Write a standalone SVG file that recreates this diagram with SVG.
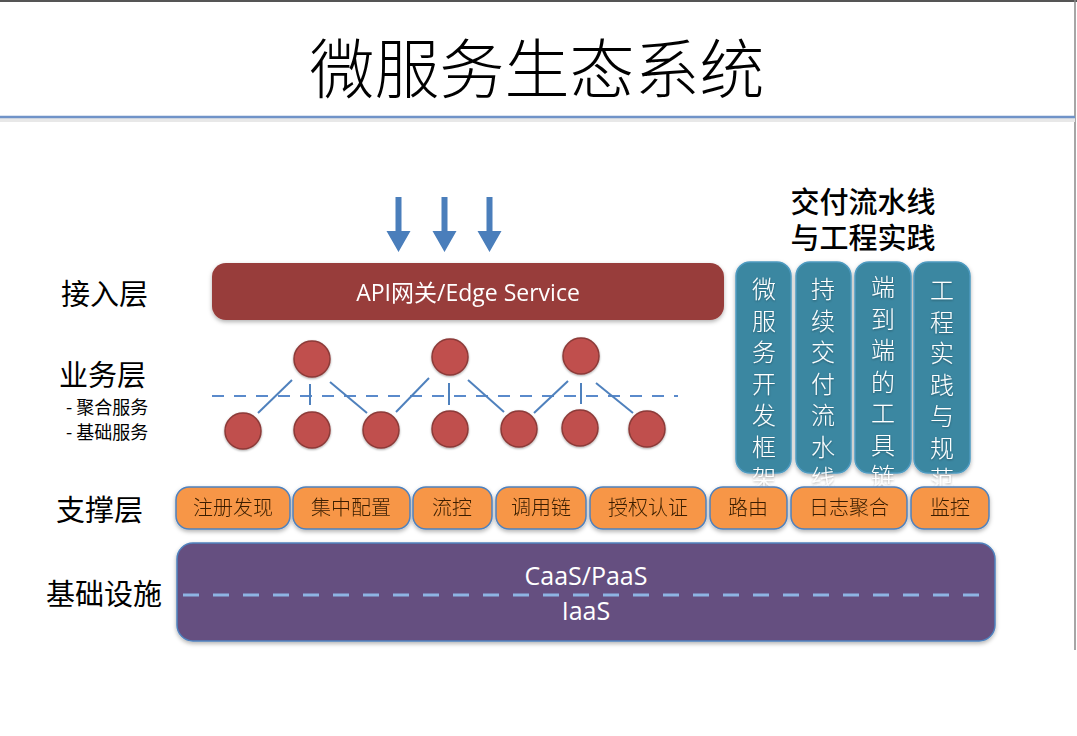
<svg xmlns="http://www.w3.org/2000/svg" width="1077" height="736" viewBox="0 0 1077 736">
<defs>
<style>
.cjk{font-family:"Noto Sans CJK SC","Liberation Sans",sans-serif}
.lbl{font-family:"Noto Sans CJK SC",sans-serif;font-size:29px;fill:#000}
.sub{font-family:"Noto Sans CJK SC",sans-serif;font-size:18px;fill:#000}
.wt{font-family:"Open Sans","Noto Sans CJK SC",sans-serif;fill:#fff;text-anchor:middle}
.vt{font-family:"Noto Sans CJK SC",sans-serif;font-size:24px;fill:#fff;text-anchor:middle;font-weight:300}
.or{fill:#f79646;stroke:#4f81bd;stroke-width:1.5}
.ot{font-family:"Noto Sans CJK SC",sans-serif;font-size:20px;fill:#3a1e00;text-anchor:middle;font-weight:300}
.teal{fill:#3a87a1;stroke:#4d9ac0;stroke-width:1.5}
.node{fill:#c0504d;stroke:#8c3a38;stroke-width:1.5}
.conn{stroke:#4f81bd;stroke-width:2;fill:none}
.arrow{fill:#4a7ebb}
</style>
<filter id="sh" x="-10%" y="-10%" width="120%" height="130%">
<feDropShadow dx="0" dy="2" stdDeviation="2" flood-color="#000" flood-opacity="0.3"/>
</filter>
<filter id="tsh" x="-30%" y="-30%" width="160%" height="160%">
<feDropShadow dx="0" dy="1" stdDeviation="1" flood-color="#000" flood-opacity="0.35"/>
</filter>
</defs>
<rect width="1077" height="736" fill="#fff"/>
<line x1="0" y1="1" x2="1077" y2="1" stroke="#555" stroke-width="2"/>
<line x1="1075" y1="0" x2="1075" y2="650" stroke="#888" stroke-width="1.5"/>

<g id="title">
<text x="537" y="93" text-anchor="middle" class="cjk" font-size="65" font-weight="300" fill="#000">微服务生态系统</text>
<rect x="0" y="118" width="1075" height="4" fill="#e8e8e8"/>
<line x1="0" y1="117" x2="1075" y2="117" stroke="#7093c8" stroke-width="2.5"/>
</g>

<g id="layer-labels">
<text x="61" y="305" class="lbl">接入层</text>
<text x="59" y="386" class="lbl">业务层</text>
<text x="66" y="414" class="sub">- 聚合服务</text>
<text x="66" y="439" class="sub">- 基础服务</text>
<text x="56" y="521" class="lbl">支撑层</text>
<text x="46" y="605" class="lbl">基础设施</text>
</g>

<g id="arrows">
<path class="arrow" d="M395.5 197h6v34h9l-12 21l-12-21h9z"/>
<path class="arrow" d="M441.5 197h6v34h9l-12 21l-12-21h9z"/>
<path class="arrow" d="M486.5 197h6v34h9l-12 21l-12-21h9z"/>
</g>

<g id="gateway" filter="url(#sh)">
<rect x="212" y="263" width="512" height="57" rx="14" fill="#983d3b"/>
<text x="468" y="301" class="wt" font-size="23">API网关/Edge Service</text>
</g>

<g id="connectors">
<line x1="212" y1="396" x2="678" y2="396" stroke="#5a8acb" stroke-width="2" stroke-dasharray="12,10"/>
<line class="conn" x1="292" y1="380" x2="258" y2="413"/>
<line class="conn" x1="310" y1="384" x2="310" y2="405"/>
<line class="conn" x1="330" y1="382" x2="367" y2="413"/>
<line class="conn" x1="429" y1="378" x2="396" y2="412"/>
<line class="conn" x1="449" y1="383" x2="449" y2="405"/>
<line class="conn" x1="468" y1="380" x2="504" y2="412"/>
<line class="conn" x1="568" y1="381" x2="534" y2="413"/>
<line class="conn" x1="581" y1="383" x2="581" y2="404"/>
<line class="conn" x1="596" y1="383" x2="633" y2="413"/>
</g>

<g id="services" filter="url(#tsh)">
<circle class="node" cx="312" cy="359" r="18"/>
<circle class="node" cx="450" cy="357" r="18"/>
<circle class="node" cx="581" cy="356" r="18"/>
<circle class="node" cx="243" cy="431" r="18"/>
<circle class="node" cx="312" cy="430" r="18"/>
<circle class="node" cx="381" cy="430" r="18"/>
<circle class="node" cx="450" cy="429" r="18"/>
<circle class="node" cx="519" cy="429" r="18"/>
<circle class="node" cx="580" cy="428" r="18"/>
<circle class="node" cx="647" cy="429" r="18"/>
</g>

<g id="pipeline">
<text x="863" y="213" text-anchor="middle" class="cjk" font-size="29" font-weight="500" fill="#000">交付流水线</text>
<text x="863" y="249" text-anchor="middle" class="cjk" font-size="29" font-weight="500" fill="#000">与工程实践</text>
<g filter="url(#sh)">
<rect class="teal" x="736" y="262" width="55" height="211" rx="14"/>
<rect class="teal" x="796" y="262" width="55" height="211" rx="14"/>
<rect class="teal" x="855" y="262" width="56" height="211" rx="14"/>
<rect class="teal" x="914" y="262" width="56" height="211" rx="14"/>
</g>
<g filter="url(#tsh)">
<text class="vt"><tspan x="764" y="298">微</tspan><tspan x="764" y="330">服</tspan><tspan x="764" y="361">务</tspan><tspan x="764" y="393">开</tspan><tspan x="764" y="424">发</tspan><tspan x="764" y="456">框</tspan><tspan x="764" y="487">架</tspan></text>
<text class="vt"><tspan x="823" y="298">持</tspan><tspan x="823" y="330">续</tspan><tspan x="823" y="361">交</tspan><tspan x="823" y="393">付</tspan><tspan x="823" y="424">流</tspan><tspan x="823" y="456">水</tspan><tspan x="823" y="487">线</tspan></text>
<text class="vt"><tspan x="883" y="296">端</tspan><tspan x="883" y="328">到</tspan><tspan x="883" y="359">端</tspan><tspan x="883" y="391">的</tspan><tspan x="883" y="422">工</tspan><tspan x="883" y="454">具</tspan><tspan x="883" y="485">链</tspan></text>
<text class="vt"><tspan x="942" y="299">工</tspan><tspan x="942" y="331">程</tspan><tspan x="942" y="362">实</tspan><tspan x="942" y="394">践</tspan><tspan x="942" y="425">与</tspan><tspan x="942" y="457">规</tspan><tspan x="942" y="488">范</tspan></text>
</g>
</g>

<g id="support" filter="url(#sh)">
<rect class="or" x="176" y="487" width="114" height="42" rx="13"/>
<text class="ot" x="233" y="515">注册发现</text>
<rect class="or" x="293" y="487" width="117" height="42" rx="13"/>
<text class="ot" x="351" y="515">集中配置</text>
<rect class="or" x="413" y="487" width="79" height="42" rx="13"/>
<text class="ot" x="452" y="515">流控</text>
<rect class="or" x="496" y="487" width="90" height="42" rx="13"/>
<text class="ot" x="541" y="515">调用链</text>
<rect class="or" x="590" y="487" width="116" height="42" rx="13"/>
<text class="ot" x="648" y="515">授权认证</text>
<rect class="or" x="710" y="487" width="77" height="42" rx="13"/>
<text class="ot" x="748" y="515">路由</text>
<rect class="or" x="791" y="487" width="116" height="42" rx="13"/>
<text class="ot" x="849" y="515">日志聚合</text>
<rect class="or" x="911" y="487" width="78" height="42" rx="13"/>
<text class="ot" x="950" y="515">监控</text>
</g>

<g id="infrastructure">
<rect x="177" y="543" width="818" height="98" rx="16" fill="#654f80" stroke="#4f81bd" stroke-width="1.5" filter="url(#sh)"/>
<line x1="183" y1="595" x2="990" y2="595" stroke="#8eb4e3" stroke-width="3" stroke-dasharray="16,14"/>
<text x="586" y="585" class="wt" font-size="25">CaaS/PaaS</text>
<text x="586" y="620" class="wt" font-size="25">IaaS</text>
</g>
</svg>
